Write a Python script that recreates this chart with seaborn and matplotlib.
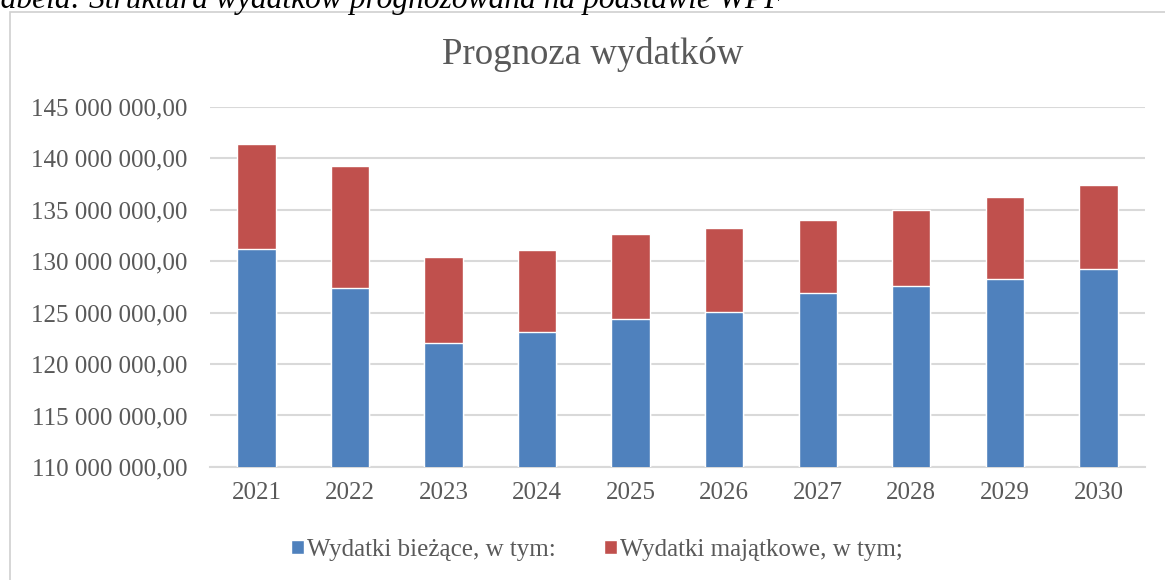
import pandas as pd
import matplotlib.pyplot as plt
import seaborn as sns
from matplotlib.ticker import FuncFormatter
from matplotlib.patches import Rectangle

lata = ['2021', '2022', '2023', '2024', '2025', '2026', '2027', '2028', '2029', '2030']
biezace = [131.2, 127.35, 122.05, 123.1, 124.4, 125.05, 126.9, 127.6, 128.3, 129.25]
majatkowe = [10.25, 11.95, 8.4, 7.95, 8.25, 8.15, 7.1, 7.4, 7.95, 8.2]
nazwy = ['Wydatki bieżące, w tym:', 'Wydatki majątkowe, w tym;']

df = pd.DataFrame({'Rok': lata,
                   'Biezace': [b * 1e6 for b in biezace],
                   'Razem': [(b + m) * 1e6 for b, m in zip(biezace, majatkowe)]})

sns.set_style('white')
plt.rcParams['font.family'] = ['Liberation Serif', 'DejaVu Serif']

fig = plt.figure(figsize=(11.65, 5.8), dpi=100)
ax = fig.add_axes([0.180, 0.195, 0.803, 0.6205])

sns.barplot(x='Rok', y='Razem', data=df, color='#C0504D', width=0.41,
            saturation=1, label=nazwy[1], ax=ax, zorder=3)
sns.barplot(x='Rok', y='Biezace', data=df, color='#4F81BD', width=0.41,
            saturation=1, label=nazwy[0], ax=ax, zorder=4)

ax.set_ylim(110e6, 145e6)
ax.set_yticks([110e6 + 5e6 * i for i in range(8)])
ax.yaxis.set_major_formatter(FuncFormatter(
    lambda v, p: f'{v:,.2f}'.replace(',', ' ').replace('.', ',')))
ax.grid(axis='y', color='#d9d9d9', linewidth=1.5, zorder=0)
for s in ['top', 'right', 'left']:
    ax.spines[s].set_visible(False)
ax.spines['bottom'].set_color('#d9d9d9')
ax.spines['bottom'].set_linewidth(1.5)
ax.tick_params(axis='both', length=0, labelsize=18, colors='#595959')
ax.tick_params(axis='y', pad=16)
ax.tick_params(axis='x', pad=11)
ax.set_xlabel('')
ax.set_ylabel('')

fig.text(593 / 1165, 1 - 55 / 580, 'Prognoza wydatków', fontsize=26.5,
         color='#595959', ha='center', va='center')

h, l = ax.get_legend_handles_labels()
order = [l.index(n) for n in nazwy]
ax.legend([h[i] for i in order], [l[i] for i in order], loc='center',
          bbox_to_anchor=(0.414, -0.23), ncol=2, frameon=False, fontsize=18,
          labelcolor='#595959', handlelength=0.52, handleheight=0.52,
          handletextpad=0.15, columnspacing=1.9)

fig.patches.append(Rectangle((10 / 1165, -0.05), 1.1, 1 - 12 / 580 + 0.05,
                             transform=fig.transFigure, fill=False,
                             edgecolor='#d0d0d0', linewidth=1.2))
fig.text(-0.012, 1.0, 'Tabela: Struktura wydatków prognozowana na podstawie WPF',
         fontsize=22.7, style='italic', ha='left', va='center', color='black')

plt.savefig('out.png', dpi=100)
